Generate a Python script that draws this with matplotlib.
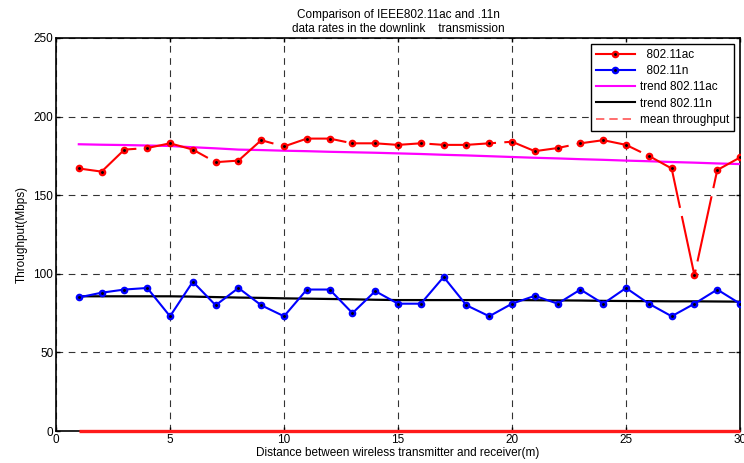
import matplotlib
matplotlib.use("Agg")
import matplotlib.pyplot as plt
from matplotlib.lines import Line2D

plt.rcParams['font.family'] = ['Liberation Sans Narrow', 'Liberation Sans', 'DejaVu Sans']

distance = list(range(1, 31))
ac_values = [167, 165, 179, 180, 183, 179, 171, 172, 185, 181,
             186, 186, 183, 183, 182, 183, 182, 182, 183, 184,
             178, 180, 183, 185, 182, 175, 167, 99, 166, 174]
n_values = [85, 88, 90, 91, 73, 95, 80, 91, 80, 73,
            90, 90, 75, 89, 81, 81, 98, 80, 73, 81,
            86, 81, 90, 81, 91, 81, 73, 81, 90, 81]
trend_ac = [182.4, 182.1, 181.9, 181.6, 181.3, 180.5, 179.8, 179.0, 178.7, 178.3,
            178.0, 177.6, 177.3, 177.0, 176.6, 176.2, 175.7, 175.3, 174.8, 174.3,
            173.8, 173.4, 172.9, 172.5, 172.0, 171.6, 171.1, 170.7, 170.2, 169.8]
trend_n = [85.7, 85.7, 85.7, 85.7, 85.7, 85.5, 85.2, 84.9, 84.7, 84.4,
           84.2, 84.0, 83.8, 83.5, 83.3, 83.3, 83.3, 83.3, 83.3, 83.3,
           83.2, 83.1, 83.0, 82.8, 82.7, 82.6, 82.5, 82.5, 82.4, 82.3]
mean_values = [0] * 30

xticks = [0, 5, 10, 15, 20, 25, 30]
yticks = [0, 50, 100, 150, 200, 250]

fig = plt.figure(figsize=(7.44, 4.63), dpi=100)
ax = fig.add_axes([0.0753, 0.069, 0.9194, 0.849])

ax.plot(distance, mean_values, color='#ff1a1a', lw=2.4, solid_capstyle='butt', zorder=6, clip_on=False)
ax.plot(distance, trend_ac, color='#ff00ff', lw=1.6, zorder=3)
ax.plot(distance, trend_n, color='black', lw=1.6, zorder=3)
ax.plot(distance, ac_values, color='red', lw=1.5, dashes=(32, 4),
        marker='o', markersize=3.8, markerfacecolor='black', markeredgecolor='red',
        markeredgewidth=1.7, zorder=4)
ax.plot(distance, n_values, color='blue', lw=1.5,
        marker='o', markersize=3.8, markerfacecolor='black', markeredgecolor='blue',
        markeredgewidth=1.7, zorder=4)

ax.set_xlim(0, 30)
ax.set_ylim(0, 250)
ax.set_xticks(xticks)
ax.set_yticks(yticks)
ax.tick_params(direction='in', top=True, right=True, labelsize=8.5, length=3, width=1, pad=2)
ax.grid(True, color='black', linestyle=(0, (6, 5)), lw=0.8, alpha=0.8)
for s in ax.spines.values():
    s.set_linewidth(1.2)

ax.set_title('Comparison of IEEE802.11ac and .11n\ndata rates in the downlink    transmission',
             fontsize=8.5, linespacing=1.3, pad=4)
ax.set_xlabel('Distance between wireless transmitter and receiver(m)', fontsize=8.5, labelpad=1)
ax.set_ylabel('Throughput(Mbps)', fontsize=8.5, labelpad=4)

handles = [
    Line2D([], [], color='red', lw=1.5, marker='o', markersize=3.8, markerfacecolor='black',
           markeredgecolor='red', markeredgewidth=1.7),
    Line2D([], [], color='blue', lw=1.5, marker='o', markersize=3.8, markerfacecolor='black',
           markeredgecolor='blue', markeredgewidth=1.7),
    Line2D([], [], color='#ff00ff', lw=1.5),
    Line2D([], [], color='black', lw=1.5),
    Line2D([], [], color='#ff5555', lw=1.2, linestyle=(0, (5, 3))),
]
labels = ['  802.11ac', '  802.11n', 'trend 802.11ac', 'trend 802.11n', 'mean throughput']
leg = ax.legend(handles, labels, loc='upper right', fontsize=8.5, fancybox=False,
                framealpha=1, edgecolor='black', handlelength=3.3, borderaxespad=0.5,
                labelspacing=0.35, handletextpad=0.4, borderpad=0.45)
leg.get_frame().set_linewidth(1.0)
leg.set_zorder(10)

fig.savefig('out.png', dpi=100)
